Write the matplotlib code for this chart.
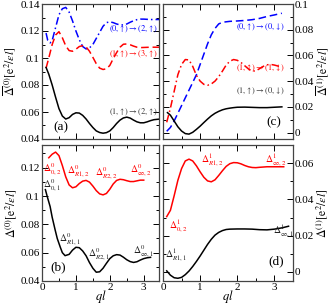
import matplotlib
matplotlib.use('Agg')
import matplotlib.pyplot as plt
from matplotlib.ticker import MultipleLocator

plt.rcParams['font.family'] = ['Liberation Serif', 'DejaVu Serif']
plt.rcParams['mathtext.fontset'] = 'stix'

# ---- panel (a): averaged gaps, l=0 ----
q_a_blk = [0.12, 0.2, 0.3, 0.4, 0.5, 0.6, 0.7, 0.8, 0.9, 1.0, 1.1, 1.2, 1.3, 1.4, 1.5, 1.6, 1.7,
           1.8, 1.9, 2.0, 2.1, 2.2, 2.3, 2.4, 2.5, 2.6, 2.7, 2.8, 2.9, 3.0, 3.1, 3.2, 3.3, 3.45]
d_a_blk = [0.093, 0.088, 0.080, 0.071, 0.0625, 0.057, 0.0548, 0.0558, 0.0582, 0.0594, 0.0592,
           0.0575, 0.0548, 0.0515, 0.0485, 0.046, 0.0448, 0.0443, 0.0447, 0.046, 0.0485, 0.0515,
           0.054, 0.0556, 0.0562, 0.0555, 0.054, 0.0527, 0.052, 0.052, 0.0527, 0.0536, 0.0543, 0.0547]
q_a_red = [0.12, 0.2, 0.3, 0.4, 0.5, 0.6, 0.7, 0.8, 0.9, 1.0, 1.1, 1.2, 1.3, 1.4, 1.5, 1.6, 1.7,
           1.8, 1.9, 2.0, 2.1, 2.2, 2.3, 2.4, 2.5, 2.6, 2.7, 2.8, 2.9, 3.0, 3.2, 3.45]
d_a_red = [0.0925, 0.100, 0.110, 0.117, 0.1195, 0.115, 0.109, 0.1055, 0.105, 0.1065, 0.1085,
           0.1091, 0.1082, 0.105, 0.1005, 0.0958, 0.0925, 0.0915, 0.092, 0.0945, 0.0995, 0.104,
           0.108, 0.1102, 0.1104, 0.1098, 0.1088, 0.108, 0.1077, 0.1078, 0.108, 0.108]
q_a_blu = [0.12, 0.17, 0.24, 0.3, 0.4, 0.5, 0.6, 0.7, 0.8, 0.9, 1.0, 1.1, 1.2, 1.3, 1.4, 1.5, 1.6,
           1.7, 1.8, 1.9, 2.0, 2.1, 2.2, 2.3, 2.4, 2.5, 2.6, 2.7, 2.8, 2.9, 3.0, 3.2, 3.45]
d_a_blu = [0.1185, 0.113, 0.1112, 0.113, 0.1225, 0.132, 0.1365, 0.1375, 0.134, 0.1275, 0.120,
           0.1135, 0.1085, 0.1067, 0.1075, 0.110, 0.1145, 0.119, 0.1235, 0.1262, 0.1268, 0.1262,
           0.1252, 0.1245, 0.1245, 0.1252, 0.1265, 0.1276, 0.1284, 0.1288, 0.1288, 0.1285, 0.1285]

# ---- panel (b): l=0 gaps ----
q_b_blk = [0.1, 0.15, 0.24, 0.3, 0.39, 0.45, 0.54, 0.6, 0.68, 0.8, 0.9, 1.0, 1.1, 1.2, 1.3, 1.4,
           1.5, 1.6, 1.7, 1.8, 1.9, 2.0, 2.1, 2.2, 2.3, 2.4, 2.5, 2.6, 2.7, 2.8, 2.9, 3.0, 3.1, 3.2]
d_b_blk = [0.1045, 0.100, 0.0925, 0.085, 0.0758, 0.070, 0.0638, 0.060, 0.0579, 0.0588, 0.0618,
           0.0638, 0.0635, 0.0612, 0.0578, 0.053, 0.049, 0.0462, 0.0465, 0.049, 0.0525, 0.0558,
           0.0578, 0.0586, 0.0583, 0.0568, 0.055, 0.0537, 0.0531, 0.0536, 0.0548, 0.0558, 0.0564, 0.0567]
q_b_red = [0.2, 0.3, 0.4, 0.5, 0.6, 0.7, 0.8, 0.9, 1.0, 1.1, 1.2, 1.3, 1.4, 1.5, 1.6, 1.7, 1.8,
           1.9, 2.0, 2.1, 2.2, 2.3, 2.4, 2.5, 2.6, 2.7, 2.8, 2.9, 3.0]
d_b_red = [0.127, 0.1295, 0.131, 0.1285, 0.1215, 0.1135, 0.1078, 0.1058, 0.1065, 0.1088, 0.1105,
           0.111, 0.1098, 0.107, 0.1038, 0.1015, 0.1008, 0.1018, 0.1048, 0.1085, 0.111, 0.1118,
           0.1115, 0.1108, 0.1102, 0.1102, 0.1107, 0.1112, 0.1112]

# ---- panel (c): averaged gaps, l=1 ----
q_c_blk = [0.12, 0.2, 0.3, 0.4, 0.5, 0.6, 0.7, 0.8, 0.9, 1.0, 1.1, 1.2, 1.3, 1.4, 1.5, 1.6, 1.7,
           1.8, 1.9, 2.0, 2.2, 2.4, 2.6, 2.8, 3.0, 3.2]
d_c_blk = [0.0155, 0.0135, 0.009, 0.0045, 0.0012, -0.0008, -0.0012, 0.0002, 0.0025, 0.005, 0.0078,
           0.0105, 0.013, 0.015, 0.0165, 0.0177, 0.0185, 0.019, 0.0194, 0.0197, 0.0198, 0.0196,
           0.0194, 0.0194, 0.0197, 0.020]
q_c_blu = [0.1, 0.2, 0.3, 0.4, 0.5, 0.6, 0.7, 0.8, 0.9, 1.0, 1.1, 1.2, 1.3, 1.4, 1.5, 1.6, 1.8,
           2.0, 2.2, 2.4, 2.6, 2.8, 3.0, 3.2]
d_c_blu = [0.001, 0.004, 0.009, 0.015, 0.021, 0.027, 0.033, 0.039, 0.045, 0.053, 0.061, 0.069,
           0.076, 0.081, 0.0845, 0.0858, 0.0865, 0.0868, 0.0872, 0.0878, 0.0888, 0.0903, 0.0915, 0.0928]
q_c_red = [0.1, 0.2, 0.3, 0.4, 0.5, 0.6, 0.7, 0.8, 0.9, 1.0, 1.1, 1.2, 1.3, 1.4, 1.5, 1.6, 1.7,
           1.8, 1.9, 2.0, 2.1, 2.2, 2.3, 2.4, 2.5, 2.6, 2.7, 2.8, 2.9, 3.0, 3.1, 3.2]
d_c_red = [0.008, 0.019, 0.032, 0.045, 0.053, 0.0568, 0.0565, 0.0515, 0.0445, 0.040, 0.0375,
           0.0368, 0.0378, 0.040, 0.0435, 0.0478, 0.0525, 0.0555, 0.0568, 0.0562, 0.0545, 0.052,
           0.0495, 0.0478, 0.048, 0.0497, 0.0515, 0.0527, 0.053, 0.0525, 0.0517, 0.0515]

# ---- panel (d): l=1 gaps ----
q_d_blk = [0.1, 0.2, 0.3, 0.4, 0.5, 0.6, 0.7, 0.8, 0.9, 1.0, 1.1, 1.2, 1.3, 1.4, 1.5, 1.6, 1.7,
           1.8, 2.0, 2.2, 2.4, 2.6, 2.8, 3.0, 3.2, 3.38]
d_d_blk = [0.0006, -0.0018, -0.0032, -0.0035, -0.003, -0.0015, 0.0005, 0.003, 0.0058, 0.0088,
           0.012, 0.0152, 0.018, 0.0203, 0.0218, 0.0228, 0.0234, 0.0236, 0.0237, 0.0237, 0.0236,
           0.0233, 0.0232, 0.0236, 0.0243, 0.0252]
q_d_red = [0.1, 0.2, 0.3, 0.4, 0.5, 0.6, 0.7, 0.8, 0.9, 1.0, 1.1, 1.2, 1.3, 1.4, 1.5, 1.6, 1.7,
           1.8, 1.9, 2.0, 2.1, 2.2, 2.3, 2.4, 2.5, 2.6, 2.8, 3.0, 3.25]
d_d_red = [0.0305, 0.034, 0.042, 0.0505, 0.057, 0.0612, 0.0622, 0.0612, 0.0585, 0.0552, 0.0522,
           0.0502, 0.0497, 0.0508, 0.0532, 0.0558, 0.0582, 0.0597, 0.0603, 0.0602, 0.0596, 0.0587,
           0.058, 0.0576, 0.0575, 0.0577, 0.058, 0.058, 0.058]

W, H = 334, 306
fig = plt.figure(figsize=(W / 100, H / 100), dpi=100)


def box(x0, y0, x1, y1):
    # pixel box -> figure fraction
    return [x0 / W, 1 - y1 / H, (x1 - x0) / W, (y1 - y0) / H]


ax_a = fig.add_axes(box(42, 4, 159, 139))
ax_b = fig.add_axes(box(42, 145, 159, 281))
ax_c = fig.add_axes(box(163, 4, 293, 139))
ax_d = fig.add_axes(box(163, 145, 293, 281))

lw = 1.1
ax_a.plot(q_a_blu, d_a_blu, color='blue', lw=lw, dashes=[5, 2, 1, 2])
ax_a.plot(q_a_red, d_a_red, color='red', lw=lw, dashes=[5, 2.5])
ax_a.plot(q_a_blk, d_a_blk, color='black', lw=lw)

ax_b.plot(q_b_red, d_b_red, color='red', lw=lw)
ax_b.plot(q_b_blk, d_b_blk, color='black', lw=lw)

ax_c.plot(q_c_blu, d_c_blu, color='blue', lw=lw, dashes=[5, 2.5])
ax_c.plot(q_c_red, d_c_red, color='red', lw=lw, dashes=[5, 2, 1, 2])
ax_c.plot(q_c_blk, d_c_blk, color='black', lw=lw)

ax_d.plot(q_d_red, d_d_red, color='red', lw=lw)
ax_d.plot(q_d_blk, d_d_blk, color='black', lw=lw)

ax_a.set_xlim(0, 3.45)
ax_b.set_xlim(0, 3.45)
ax_c.set_xlim(0, 3.5)
ax_d.set_xlim(0, 3.5)
ax_a.set_ylim(0.04, 0.14)
ax_b.set_ylim(0.04, 0.136)
ax_c.set_ylim(-0.005, 0.1)
ax_d.set_ylim(-0.005, 0.07)

for ax in (ax_a, ax_b, ax_c, ax_d):
    ax.xaxis.set_major_locator(MultipleLocator(1))
    ax.xaxis.set_minor_locator(MultipleLocator(0.5))
    ax.yaxis.set_major_locator(MultipleLocator(0.02))
    ax.yaxis.set_minor_locator(MultipleLocator(0.01))
    ax.tick_params(which='both', direction='in', top=True, right=True, left=True,
                   bottom=True, labelsize=8, pad=1.5, width=0.7)
    ax.tick_params(which='major', length=4)
    ax.tick_params(which='minor', length=2)
    for s in ax.spines.values():
        s.set_color('#444444')
        s.set_linewidth(0.9)

ax_a.tick_params(labelbottom=False)
ax_c.tick_params(labelbottom=False, labelleft=False, labelright=True)
ax_d.tick_params(labelleft=False, labelright=True)

fmt = matplotlib.ticker.FuncFormatter(lambda v, p: ('%g' % round(v, 3)))
for ax in (ax_a, ax_b, ax_c, ax_d):
    ax.yaxis.set_major_formatter(fmt)

ylab = 8.5
ax_a.set_ylabel(r'$\overline{\Delta}^{(0)}[\mathrm{e}^2/\varepsilon l]$', fontsize=ylab, labelpad=1)
ax_b.set_ylabel(r'$\Delta^{(0)}[\mathrm{e}^2/\varepsilon l]$', fontsize=ylab, labelpad=1)
ax_c.set_ylabel(r'$\overline{\Delta}^{(1)}[\mathrm{e}^2/\varepsilon l]$', fontsize=ylab, labelpad=0)
ax_c.yaxis.set_label_position('right')
ax_d.set_ylabel(r'$\Delta^{(1)}[\mathrm{e}^2/\varepsilon l]$', fontsize=ylab, labelpad=0)
ax_d.yaxis.set_label_position('right')
ax_b.set_xlabel(r'$ql$', fontsize=9, labelpad=-3)
ax_d.set_xlabel(r'$ql$', fontsize=9, labelpad=-3)

# transition labels
ts = 6
ax_a.text(3.42, 0.1209, r'$(0,\!\uparrow)\rightarrow(2,\!\uparrow)$', color='blue', fontsize=ts, ha='right', va='center')
ax_a.text(3.42, 0.1025, r'$(1,\!\uparrow)\rightarrow(3,\!\uparrow)$', color='red', fontsize=ts, ha='right', va='center')
ax_a.text(3.42, 0.0595, r'$(1,\!\uparrow)\rightarrow(2,\!\uparrow)$', color='#333333', fontsize=ts, ha='right', va='center')
ax_c.text(3.28, 0.0815, r'$(0,\!\uparrow)\rightarrow(0,\!\downarrow)$', color='blue', fontsize=ts, ha='right', va='center')
ax_c.text(3.28, 0.0499, r'$(1,\!\uparrow)\rightarrow(1,\!\downarrow)$', color='red', fontsize=ts, ha='right', va='center')
ax_c.text(3.28, 0.0323, r'$(1,\!\uparrow)\rightarrow(0,\!\downarrow)$', color='#333333', fontsize=ts, ha='right', va='center')

# gap labels
gs = 7
for x, y, s in [(0.04, 0.1166, r'$\Delta^0_{0,2}$'), (0.73, 0.1158, r'$\Delta^0_{R1,2}$'),
                (1.57, 0.114, r'$\Delta^0_{R2,2}$'), (2.6, 0.1164, r'$\Delta^0_{\infty,2}$')]:
    ax_b.text(x, y, s, color='red', fontsize=gs, ha='left', va='baseline')
for x, y, s in [(0.02, 0.1057, r'$\Delta^0_{0,1}$'), (0.49, 0.0674, r'$\Delta^0_{R1,1}$'),
                (1.37, 0.0567, r'$\Delta^0_{R2,1}$'), (2.69, 0.0591, r'$\Delta^0_{\infty,1}$')]:
    ax_b.text(x, y, s, color='#222222', fontsize=gs, ha='left', va='baseline')
for x, y, s in [(1.01, 0.060, r'$\Delta^1_{R1,2}$'), (2.74, 0.060, r'$\Delta^1_{\infty,2}$'),
                (0.15, 0.0234, r'$\Delta^1_{0,2}$')]:
    ax_d.text(x, y, s, color='red', fontsize=gs, ha='left', va='baseline')
for x, y, s in [(2.97, 0.0208, r'$\Delta^1_{\infty,1}$'), (0.05, 0.0076, r'$\Delta^1_{R1,1}$')]:
    ax_d.text(x, y, s, color='#222222', fontsize=gs, ha='left', va='baseline')

# panel letters
ax_a.text(0.57, 0.0488, '(a)', fontsize=9.5, ha='center', va='center')
ax_b.text(0.49, 0.0495, '(b)', fontsize=9.5, ha='center', va='center')
ax_c.text(2.98, 0.0078, '(c)', fontsize=9.5, ha='center', va='center')
ax_d.text(3.04, 0.0057, '(d)', fontsize=9.5, ha='center', va='center')

fig.savefig('out.png', dpi=100)
